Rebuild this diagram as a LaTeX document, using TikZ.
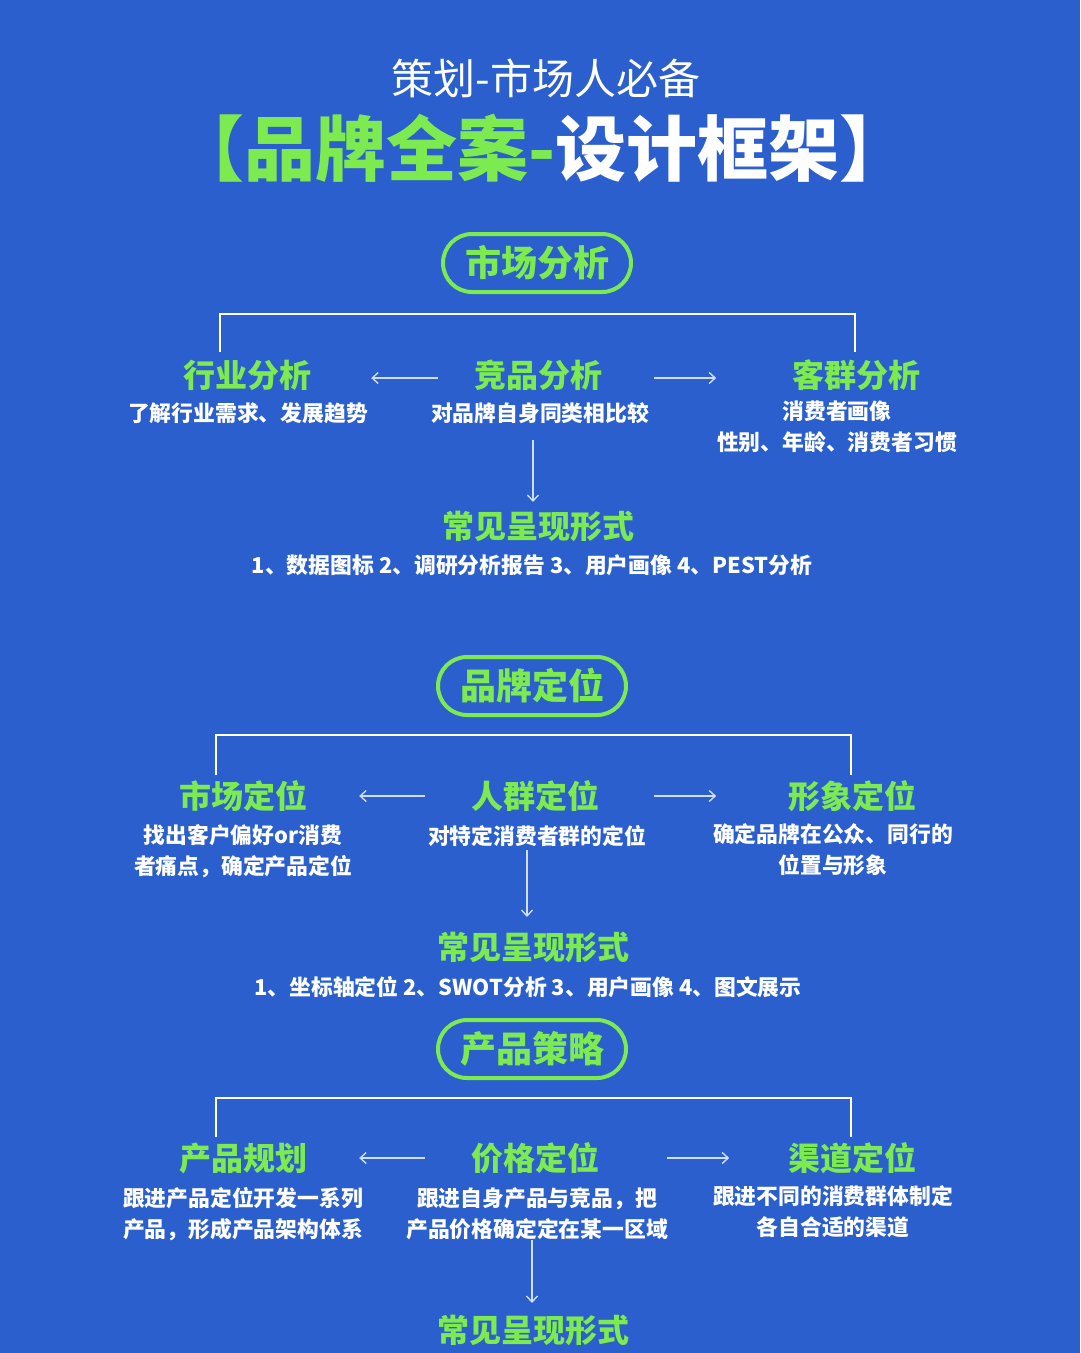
\documentclass[tikz,border=0pt]{standalone}
\usepackage{fontspec}
\setmainfont{Noto Sans CJK SC}
\usetikzlibrary{arrows.meta}
\definecolor{bg}{RGB}{42,95,205}
\definecolor{grn}{RGB}{125,235,80}
\definecolor{arrc}{RGB}{205,222,245}
\newcommand{\myfs}[2]{\fontsize{#1}{#2}\selectfont}
\begin{document}
\begin{tikzpicture}[x=1pt,y=-1pt,
 pill/.style={draw=grn, line width=4pt, rounded corners=29pt, minimum width=188pt, minimum height=58pt, text=grn, font=\myfs{36}{40}\bfseries, inner sep=0pt},
 head/.style={text=grn, font=\myfs{32}{36}\bfseries, inner sep=0pt},
 desc/.style={text=white, font=\myfs{21.8}{31}\bfseries, inner sep=0pt, align=center},
 brk/.style={draw=white, line width=2.5pt},
 conn/.style={draw=arrc, line width=1.4pt, -{Straight Barb[length=6pt,width=11pt]}}]
\useasboundingbox (0,0) rectangle (1080,1353);
\fill[bg] (0,0) rectangle (1080,1353);

% titles
\node[text=white, font=\myfs{42}{46}, inner sep=0pt] (t1) at (546,78) {策划-市场人必备};
\node[font=\myfs{71}{75}\bfseries, inner sep=0pt] (t2) at (542,148) {\textcolor{grn}{【品牌全案-}\textcolor{white}{设计框架】}};

% ---------- section 1
\node[pill] (p1) at (537,263) {市场分析};
\coordinate (b1l) at (220,352);
\coordinate (b1r) at (855,352);
\draw[brk] (b1l) -- (220,314) -- (855,314) -- (b1r);
\node[head] (h1a) at (247,375) {行业分析};
\node[head] (h1b) at (538,375) {竞品分析};
\node[head] (h1c) at (856,375) {客群分析};
\draw[conn] ([xshift=-36pt,yshift=-3pt]h1b.west) -- ([xshift=60pt,yshift=-3pt]h1a.east);
\draw[conn] ([xshift=52pt,yshift=-3pt]h1b.east) -- ([xshift=114pt,yshift=-3pt]h1b.east);
\node[desc] (d1a) at (248,413) {了解行业需求、发展趋势};
\node[desc] (d1b) at (540,413) {对品牌自身同类相比较};
\node[desc] (d1c) at (837,427) {消费者画像\\性别、年龄、消费者习惯};
\node[head] (f1) at (538,526) {常见呈现形式};
\draw[conn] (533,440) -- (533,502);
\node[desc] (l1) at (532,565) {1、数据图标 2、调研分析报告 3、用户画像 4、PEST分析};

% ---------- section 2
\node[pill] (p2) at (532,686) {品牌定位};
\coordinate (b2l) at (216,775);
\coordinate (b2r) at (851,775);
\draw[brk] (b2l) -- (216,735) -- (851,735) -- (b2r);
\node[head] (h2a) at (243,796) {市场定位};
\node[head] (h2b) at (535,796) {人群定位};
\node[head] (h2c) at (852,796) {形象定位};
\draw[conn] ([xshift=-46pt]h2b.west) -- ([xshift=52pt]h2a.east);
\draw[conn] ([xshift=55pt]h2b.east) -- ([xshift=117pt]h2b.east);
\node[desc] (d2a) at (243,851) {找出客户偏好or消费\\者痛点，确定产品定位};
\node[desc] (d2b) at (537,836) {对特定消费者群的定位};
\node[desc] (d2c) at (833,850) {确定品牌在公众、同行的\\位置与形象};
\draw[conn] (527,850) -- (527,917);
\node[head] (f2) at (533,947) {常见呈现形式};
\node[desc] (l2) at (528,987) {1、坐标轴定位 2、SWOT分析 3、用户画像 4、图文展示};

% ---------- section 3
\node[pill] (p3) at (532,1049) {产品策略};
\coordinate (b3l) at (216,1137);
\coordinate (b3r) at (851,1137);
\draw[brk] (b3l) -- (216,1098) -- (851,1098) -- (b3r);
\node[head] (h3a) at (243,1158) {产品规划};
\node[head] (h3b) at (535,1158) {价格定位};
\node[head] (h3c) at (852,1158) {渠道定位};
\draw[conn] ([xshift=-46pt]h3b.west) -- ([xshift=52pt]h3a.east);
\draw[conn] ([xshift=68pt]h3b.east) -- ([xshift=130pt]h3b.east);
\node[desc] (d3a) at (243,1214) {跟进产品定位开发一系列\\产品，形成产品架构体系};
\node[desc] (d3b) at (537,1214) {跟进自身产品与竞品，把\\产品价格确定定在某一区域};
\node[desc] (d3c) at (833,1212) {跟进不同的消费群体制定\\各自合适的渠道};
\draw[conn] (532,1240) -- (532,1303);
\node[head] (f3) at (533,1330) {常见呈现形式};
\end{tikzpicture}
\end{document}
